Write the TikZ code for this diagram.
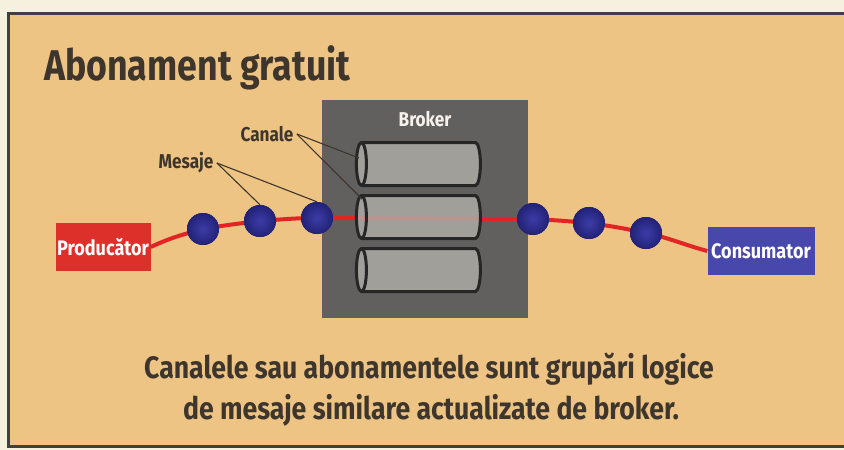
\documentclass[tikz,border=0pt]{standalone}
\usepackage{fontspec}
\setmainfont{Fira Sans}[FakeStretch=0.86]
\newfontfamily\headfont{Fira Sans}[FakeStretch=0.83]
\usepackage{tikz}
\usetikzlibrary{shapes.geometric,positioning}

\definecolor{paper}{RGB}{246,240,222}
\definecolor{card}{RGB}{237,196,132}
\definecolor{ink}{RGB}{62,54,44}
\definecolor{brokergray}{RGB}{98,96,94}
\definecolor{pipegray}{RGB}{176,174,168}
\definecolor{wirered}{RGB}{226,36,36}
\definecolor{prodred}{RGB}{222,48,42}
\definecolor{consblue}{RGB}{72,72,172}
\definecolor{msgblue}{RGB}{60,60,168}
\definecolor{msgdark}{RGB}{34,34,118}

\begin{document}
\begin{tikzpicture}[x=1pt,y=-1pt,
  ball/.style={circle,minimum size=32pt,inner sep=0pt,inner color=msgblue,outer color=msgdark},
  pipe/.style={cylinder,shape border rotate=180,aspect=1.5,draw=black!85,line width=3pt,
               fill=pipegray,fill opacity=0.82,minimum width=43pt,minimum height=124pt},
  endbox/.style={rectangle,minimum height=48pt,inner sep=1pt,text=white,font=\fontsize{21}{21}\selectfont\bfseries},
  tag/.style={text=ink,font=\fontsize{20}{20}\selectfont\bfseries},
  pointer/.style={draw=ink,line width=1.1pt},
  wire/.style={draw=wirered,line width=4pt}]
\useasboundingbox (0,0) rectangle (844,450);
\fill[paper] (0,0) rectangle (844,450);
\begin{scope}
\clip (0,0) rectangle (844,450);
\draw[fill=card,draw=black!75,line width=3pt] (8,13) rectangle (870,446);
\end{scope}

\node[anchor=base west,inner sep=0pt,text=ink,font=\headfont\fontsize{43}{43}\selectfont\bfseries] (title) at (44,80) {Abonament gratuit};

% broker with its three channels
\node[rectangle,fill=brokergray,minimum width=206pt,minimum height=218pt] (broker) at (425,209) {};
\node[text=white!90!brown,font=\fontsize{20}{20}\selectfont\bfseries] (brokername) at (425,119) {Broker};

\node[endbox,fill=prodred,minimum width=95pt] (prod) at (103,247) {Producător};
\node[endbox,fill=consblue,minimum width=107pt] (cons) at (761,251) {Consumator};

\node[ball] (m1) at (203,229) {};
\node[ball] (m2) at (260,221) {};
\node[ball] (m3) at (317,218) {};
\node[ball] (m4) at (533,219) {};
\node[ball] (m5) at (589,223) {};
\node[ball] (m6) at (646,233) {};

\draw[wire] (prod.east) to[out=25,in=195] (m1.center) to[out=10,in=187] (m2.center)
  to[out=4,in=180] (m3.center) -- (m4.center) to[out=-3,in=175] (m5.center)
  to[out=-8,in=168] (m6.center) to[out=-12,in=165] (cons.west);

\node[pipe] (c1) at (423,164) {};
\node[pipe] (c2) at (423,217) {};
\node[pipe] (c3) at (423,270) {};

% balls again so they sit on the wire
\foreach \m in {m1,m2,m3,m4,m5,m6}
  \node[ball] at (\m) {};

\node[tag] (mesaje) at (186,163) {Mesaje};
\node[tag] (canale) at (267,134) {Canale};
\coordinate (k1) at (359,158);
\coordinate (k2) at (362,199);
\draw[pointer] (mesaje.east) -- (m2.north);
\draw[pointer] (mesaje.east) -- (m3.north);
\draw[pointer] (canale.east) -- (k1);
\draw[pointer] (canale.east) -- (k2);

\node[anchor=base,text=ink,font=\fontsize{31}{31}\selectfont\bfseries] (line1) at (429,378)
  {Canalele sau abonamentele sunt grupări logice};
\node[anchor=base,text=ink,font=\fontsize{31}{31}\selectfont\bfseries] (line2) at (431,419)
  {de mesaje similare actualizate de broker.};
\end{tikzpicture}
\end{document}
